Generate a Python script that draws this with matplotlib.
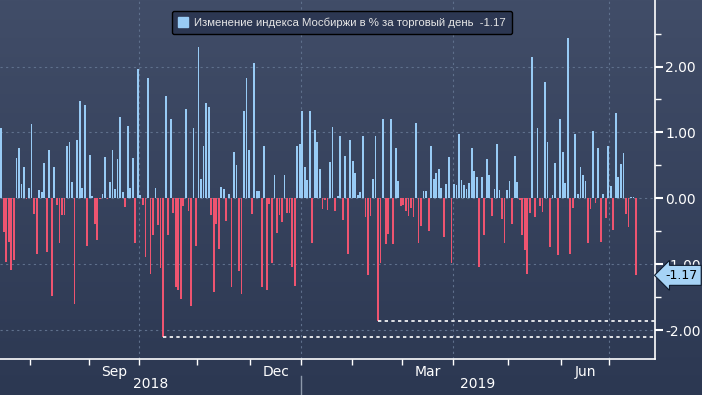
import numpy as np
import pandas as pd
import matplotlib
matplotlib.use("Agg")
import matplotlib.pyplot as plt
import matplotlib.transforms as mtransforms
from matplotlib.colors import LinearSegmentedColormap
from matplotlib.patches import Patch

# daily change of MOEX index, % (Jul 2018 - Jul 2019)
changes = [
    1.06, -0.51, -0.97, -0.67, -1.09, -0.93, 0.61, 0.77, 0.21, 0.47, -0.01, 0.15, 1.12, -0.24, -0.84, 0.13,
    0.09, 0.54, -0.81, 0.74, -1.48, 0.48, -0.10, -0.68, -0.25, -0.25, 0.79, 0.86, 0.24, -1.60, 0.89, 1.47, 0.15,
    1.41, -0.72, 0.65, 0.03, -0.39, -0.63, -0.01, 0.06, 0.62, -0.01, 0.24, 0.73, 0.14, 0.59, 1.23, 0.09,
    -0.13, 1.09, 0.15, 0.61, -0.68, 1.97, 0.05, -0.10, -0.89, 1.82, -1.15, -0.56, 0.15, -0.40, -1.06,
    -2.10, 1.56, -0.56, 1.20, -0.22, -1.34, -1.40, -1.53, -0.12, 1.35, -0.19, -1.63, 1.06, -0.72, 2.30, 0.30,
    0.80, 1.45, 1.38, -0.25, -1.42, -0.39, -0.77, 0.17, 0.14, -0.34, 0.06, -1.34, 0.71, 0.50, -1.10,
    -1.45, 1.32, 1.83, 0.74, -0.24, 2.05, 0.11, 0.11, -1.34, 0.80, -1.40, -0.09, -0.98, 0.36, -0.53, -0.25,
    -0.36, 0.36, -0.22, -0.22, -1.04, -1.33, 0.80, 0.83, 1.33, 0.47, 0.27, 1.32, -0.68, 1.03, 0.85, 0.44, -0.16,
    -0.02, -0.18, 0.55, 1.08, -0.19, 0.03, 0.94, -0.33, 0.64, -0.84, 0.88, 0.56, 0.38, 0.05, 0.09,
    0.95, -0.28, -1.16, -0.27, 0.30, 0.94, -1.86, -0.98, 1.21, -0.69, -0.54, 1.21, -0.69, 0.76, 0.26,
    -0.12, -0.10, -0.19, -0.27, -0.15, -0.28, 1.14, -0.68, -0.42, 0.11, 0.11, -0.49, 0.79, 0.30, 0.39, 0.45,
    0.15, -0.59, 0.21, 0.62, -0.98, 0.21, 0.20, 0.98, 0.27, 0.20, 0.14, 0.23, 0.77, 0.41, 0.33, -1.04, 0.33,
    -0.56, 0.59, 0.35, -0.27, 0.14, 0.83, 0.12, -0.31, -0.68, 0.12, 0.26, -0.39, 0.64, 0.24, -0.03, -0.56,
    -0.78, -1.15, -0.22, 2.15, -0.28, 1.06, -0.12, -0.21, 1.76, 0.86, -0.74, 0.05, 0.53, -0.86, 1.21,
    0.71, 0.23, 2.44, -0.84, -0.15, 0.98, 0.06, 0.48, 0.35, 0.26, -0.68, -0.16, 1.02, -0.07, 0.77,
    -0.66, 0.06, -0.30, 0.79, 0.18, -0.48, 1.30, 0.32, 0.52, 0.68, -0.24, -0.43, 0.02, 0.02, -1.17,
]
holidays = ['2018-11-05', '2018-12-31', '2019-01-01', '2019-01-02', '2019-01-07',
            '2019-03-08', '2019-05-01', '2019-05-09', '2019-06-12']
month_names = {3: 'Mar', 6: 'Jun', 9: 'Sep', 12: 'Dec'}
legend_label = 'Изменение индекса Мосбиржи в % за торговый день'

dates = pd.bdate_range('2018-07-16', periods=len(changes), freq='C', holidays=holidays)
vals = np.array(changes)
x = np.arange(len(vals))

W, H = 702, 395
fig = plt.figure(figsize=(W / 100, H / 100), dpi=100)

# background gradient
bg = fig.add_axes([0, 0, 1, 1], zorder=-1)
cmap = LinearSegmentedColormap.from_list('bg', ['#414d68', '#2c3852'])
bg.imshow(np.linspace(0, 1, 256).reshape(-1, 1), aspect='auto', cmap=cmap, extent=[0, 1, 0, 1])
bg.axis('off')

ax = fig.add_axes([0, 36 / H, 655 / W, 359 / H])
ax.set_facecolor('none')

colors = np.where(vals >= 0, '#98cbf5', '#ee5470')
ax.bar(x, vals, width=0.7, color=colors, linewidth=0, zorder=3)

ax.set_xlim(-0.5, 258.5)
ax.set_ylim(-2.44, 3.01)

# month boundaries / quarter grid
s = pd.Series(x, index=dates)
firsts = s.groupby([dates.year, dates.month]).first()
lasts = s.groupby([dates.year, dates.month]).last()
bounds = [v - 0.5 for v in firsts.values[1:]]
ax.set_xticks(bounds, minor=True)
for (yr, mo), v in firsts.items():
    if mo in (1, 4, 7, 10) and v > 0:
        ax.axvline(v - 0.5, color='#5f708c', lw=0.8, ls=(0, (2, 3)), zorder=1)

centers, labels = [], []
for (yr, mo), v in firsts.items():
    if mo in month_names:
        centers.append((v + lasts[(yr, mo)]) / 2)
        labels.append(month_names[mo])
ax.set_xticks(centers, labels)
ax.tick_params(axis='x', which='major', length=0, pad=4, colors='white', labelsize=10)
ax.tick_params(axis='x', which='minor', length=4, width=1, colors='white', direction='out')

# year labels and separator
trans = mtransforms.blended_transform_factory(ax.transData, ax.transAxes)
xmin, xmax = ax.get_xlim()
years = sorted(set(dates.year))
for yr in years:
    idx = x[dates.year == yr]
    lo = max(idx[0] - 0.5, xmin)
    hi = xmax if yr == years[-1] else idx[-1] + 0.5
    ax.text((lo + hi) / 2, -0.07, str(yr), transform=trans, ha='center', va='center',
            color='white', fontsize=10)
    if yr != years[0]:
        ax.plot([idx[0] - 0.5] * 2, [-0.047, -0.11], transform=trans, color='#8d99ab',
                lw=1, clip_on=False)

# y axis on the right
ax.yaxis.tick_right()
ax.set_yticks([-2, -1, 0, 1, 2])
ax.set_yticklabels(['%.2f' % v for v in [-2, -1, 0, 1, 2]])
ax.set_yticks([-1.5, -0.5, 0.5, 1.5, 2.5], minor=True)
ax.tick_params(axis='y', which='major', length=6, width=1.5, colors='white', labelsize=10, pad=1.5)
ax.tick_params(axis='y', which='minor', length=4, width=1, colors='white')
for yv in [-2, -1, 0, 1, 2]:
    ax.axhline(yv, color='#5f708c', lw=0.8, ls=(0, (2, 3)), zorder=1)

for side in ['top', 'left']:
    ax.spines[side].set_visible(False)
for side in ['bottom', 'right']:
    ax.spines[side].set_color('white')
    ax.spines[side].set_linewidth(1.2)

# dotted lines from the lows
i1 = int(np.argmin(vals))
i2 = i1 + 1 + int(np.argmin(vals[i1 + 1:]))
for i in (i1, i2):
    ax.hlines(vals[i], i, xmax, colors='white', linestyles=(0, (2, 2)), lw=1.2, zorder=4)

# last value callout
last = vals[-1]
ytrans = mtransforms.blended_transform_factory(ax.transAxes, ax.transData)
ax.text(1.016, last, '%.2f' % last, transform=ytrans, ha='left', va='center', fontsize=9,
        color='black', zorder=10,
        bbox=dict(boxstyle='larrow,pad=0.28', fc='#a6d3f6', ec='#0e1a2c', lw=0.8))

leg = ax.legend([Patch(color='#98cbf5')], ['%s  %.2f' % (legend_label, last)],
                loc='upper center', bbox_to_anchor=(0.522, 0.969), borderaxespad=0,
                handlelength=0.9, handleheight=0.9, handletextpad=0.5, borderpad=0.55,
                fancybox=True, facecolor='#2c3752', edgecolor='black', framealpha=1,
                prop={'family': 'Liberation Sans', 'size': 8.2})
for t in leg.get_texts():
    t.set_color('#e6e6e6')

fig.savefig('out.png', dpi=100)
